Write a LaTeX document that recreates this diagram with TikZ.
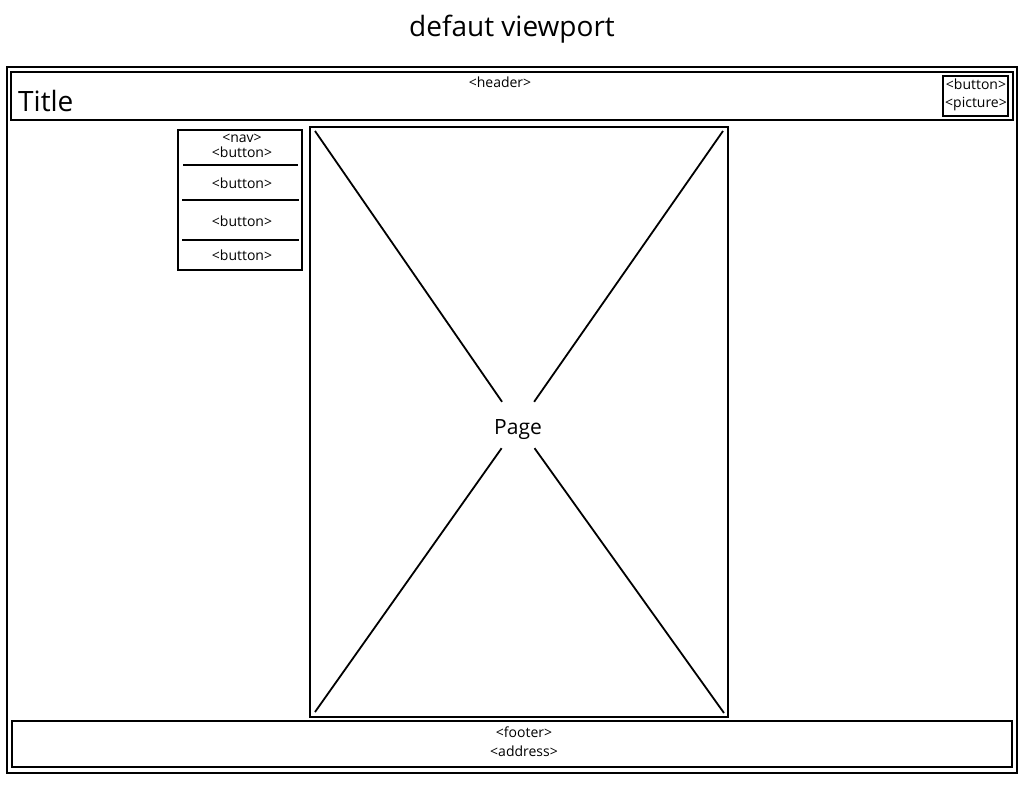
\documentclass[tikz,border=0pt]{standalone}
\usepackage{fontspec}
\setmainfont{Open Sans}
\begin{document}
\begin{tikzpicture}[x=1pt,y=-1pt,
  box/.style={draw,line width=2pt,inner sep=0pt,rectangle},
  lbl/.style={inner sep=0pt,font=\fontsize{14}{16}\selectfont},
  sep/.style={line width=2pt},
  diag/.style={line width=1.8pt}]
\useasboundingbox (0,0) rectangle (1024,786);
% title
\node[font=\fontsize{28}{32}\selectfont] (vtitle) at (512,29) {defaut viewport};
% outer frame
\node[box, minimum width=1010pt, minimum height=706pt] (frame) at (512,420) {};
% header
\node[box, minimum width=1002pt, minimum height=48pt] (header) at (512,96) {};
\node[lbl] (htag) at (500,82) {<header>};
\node[anchor=west, inner sep=0pt, font=\fontsize{28}{32}\selectfont] (ttl) at (18,101) {Title};
\node[box, minimum width=65pt, minimum height=40pt] (bp) at (975.5,96) {};
\node[lbl] (btn) at (976,84) {<button>};
\node[lbl] (pic) at (976,104) {<picture>};
% nav
\node[box, minimum width=124pt, minimum height=140pt] (nav) at (240,200) {};
\node[lbl] (navtag) at (242,138) {<nav>};
\node[lbl] (nb1) at (242,152) {<button>};
\node[lbl] (nb2) at (242,183) {<button>};
\node[lbl] (nb3) at (242,221) {<button>};
\node[lbl] (nb4) at (242,255) {<button>};
\draw[sep] (183,165) -- (298,165);
\draw[sep] (182,200) -- (299,200);
\draw[sep] (182,240) -- (299,240);
% page
\node[box, minimum width=418pt, minimum height=590pt] (page) at (519,422) {};
\node[inner sep=0pt, minimum width=34pt, minimum height=46pt, text height=18pt, text depth=0pt, font=\fontsize{21}{24}\selectfont] (plabel) at (518,425) {Page};
\coordinate (ctl) at (315,131);
\coordinate (ctr) at (723,131);
\coordinate (cbl) at (315,712);
\coordinate (cbr) at (724,713);
\draw[diag] (ctl) -- (plabel);
\draw[diag] (ctr) -- (plabel);
\draw[diag] (cbl) -- (plabel);
\draw[diag] (cbr) -- (plabel);
% footer
\node[box, minimum width=1000pt, minimum height=46pt] (footer) at (512,744) {};
\node[lbl] (ftag) at (524,732) {<footer>};
\node[lbl] (addr) at (524,751) {<address>};
\end{tikzpicture}
\end{document}
